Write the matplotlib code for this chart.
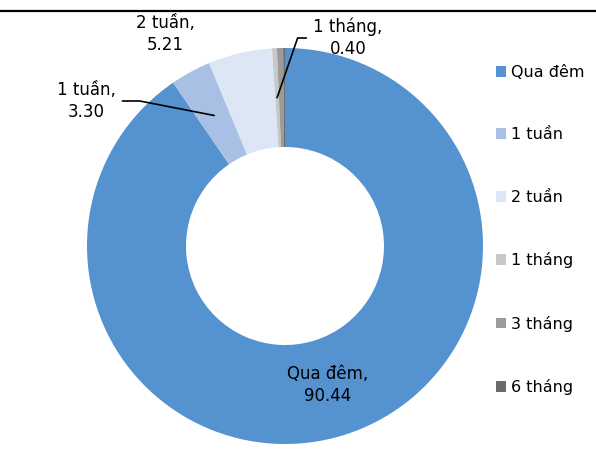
import numpy as np
import matplotlib
matplotlib.use('Agg')
import matplotlib.pyplot as plt
from matplotlib.lines import Line2D

labels = ['Qua đêm', '1 tuần', '2 tuần', '1 tháng', '3 tháng', '6 tháng']
values = [90.44, 3.30, 5.21, 0.40, 0.50, 0.15]
colors = ['#5592D0', '#A9C0E5', '#DCE6F5', '#C8C8C8', '#9B9B9B', '#6B6B6B']

plt.rcParams['font.family'] = ['DejaVu Sans']
W, H = 596, 449
fig = plt.figure(figsize=(W / 100, H / 100), dpi=100)

# pie placed by pixel centre/radius
cx, cy, r = 285, 246, 198
ax = fig.add_axes([(cx - r) / W, (H - cy - r) / H, 2 * r / W, 2 * r / H])
wedges, _ = ax.pie(values, colors=colors, startangle=90, counterclock=False,
                   radius=1, wedgeprops=dict(width=0.5, linewidth=0))
ax.set_xlim(-1, 1)
ax.set_ylim(-1, 1)
ax.set_aspect('auto')


def mid_point(w, rr=0.75):
    a = np.deg2rad((w.theta1 + w.theta2) / 2)
    return rr * np.cos(a), rr * np.sin(a)


def px(x, y):
    return (x - cx) / r, (cy - y) / r


fs = 12
ls = 1.25
# Qua dem
ax.text(*px(328, 385), f'{labels[0]},\n{values[0]:.2f}', ha='center', va='center',
        fontsize=fs, linespacing=ls)
# 2 tuan
ax.text(*px(165, 34), f'{labels[2]},\n{values[2]:.2f}', ha='center', va='center',
        fontsize=fs, linespacing=ls)
# 1 tuan with leader
ax.annotate(f'{labels[1]},\n{values[1]:.2f}', xy=mid_point(wedges[1]), xytext=px(86, 101),
            ha='center', va='center', fontsize=fs, linespacing=ls,
            arrowprops=dict(arrowstyle='-', color='black', lw=1.2, shrinkA=3, shrinkB=0,
                            relpos=(1.0, 0.5),
                            connectionstyle='angle,angleA=0,angleB=-11,rad=0'))
# 1 thang with leader
ax.annotate(f'{labels[3]},\n{values[3]:.2f}', xy=mid_point(wedges[3]), xytext=px(348, 38),
            ha='center', va='center', fontsize=fs, linespacing=ls,
            arrowprops=dict(arrowstyle='-', color='black', lw=1.2, shrinkA=3, shrinkB=0,
                            relpos=(0.0, 0.5),
                            connectionstyle='angle,angleA=180,angleB=71,rad=0'))

fig.legend(wedges, labels, loc='upper left', bbox_to_anchor=(496 / W, 1 - 65 / H),
           frameon=False, fontsize=11.5, handlelength=0.65, handleheight=0.65,
           handletextpad=0.3, labelspacing=2.97, borderaxespad=0, borderpad=0)

# top rule
fig.add_artist(Line2D([0, 1], [1 - 11 / H, 1 - 11 / H], color='black', lw=1.6))

fig.savefig('out.png', dpi=100)
